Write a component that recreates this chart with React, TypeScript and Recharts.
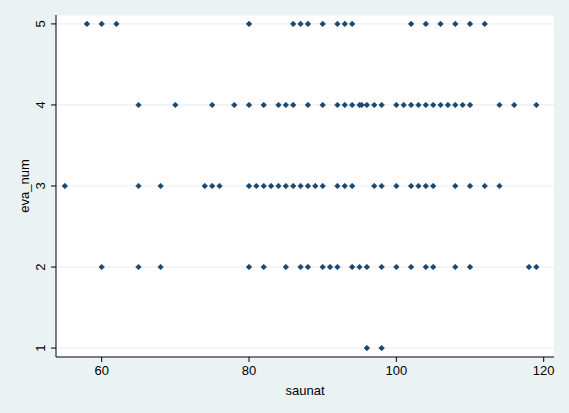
import React from "react";
import { ScatterChart, Scatter, XAxis, YAxis, CartesianGrid, Label } from "recharts";

const evaLevels = [1, 2, 3, 4, 5];
const xTicks = [60, 80, 100, 120];

const saunatEva5 = [58, 60, 62, 80, 86, 87, 88, 90, 92, 93, 94, 102, 104, 106, 108, 110, 112];
const saunatEva4 = [65, 70, 75, 78, 80, 82, 84, 85, 86, 88, 90, 92, 93, 94, 95, 95.3, 96, 97, 98, 100, 101, 102, 103, 104, 105, 106, 107, 108, 109, 110, 114, 116, 119];
const saunatEva3 = [55, 65, 68, 74, 75, 76, 80, 81, 82, 83, 84, 85, 86, 87, 88, 89, 90, 92, 93, 94, 97, 98, 100, 102, 103, 104, 105, 108, 110, 112, 114];
const saunatEva2 = [60, 65, 68, 80, 82, 85, 87, 88, 90, 91, 92, 94, 95, 96, 98, 100, 102, 104, 105, 108, 110, 118, 119];
const saunatEva1 = [96, 98];

const rows: [number, number[]][] = [
  [5, saunatEva5],
  [4, saunatEva4],
  [3, saunatEva3],
  [2, saunatEva2],
  [1, saunatEva1],
];
const points = rows.flatMap(([eva, xs]) => xs.map((s) => ({ saunat: s, eva_num: eva })));

const FONT = "'Liberation Sans', Arial, sans-serif";
const NAVY = "#1A476F";
const BG = "#EAF2F3";

const Diamond = (props: any) => {
  const { cx, cy } = props;
  if (cx == null || cy == null) return null;
  const r = 2.8;
  return (
    <polygon
      points={`${cx},${cy - r} ${cx + r},${cy} ${cx},${cy + r} ${cx - r},${cy}`}
      fill={NAVY}
      stroke={NAVY}
      strokeWidth={0.6}
    />
  );
};

const YTick = (props: any) => {
  const { x, y, payload } = props;
  return (
    <text
      transform={`translate(${x - 9},${y}) rotate(-90)`}
      textAnchor="middle"
      dominantBaseline="central"
      fontFamily={FONT}
      fontSize={13}
      fill="#000"
    >
      {payload.value}
    </text>
  );
};

const XTick = (props: any) => {
  const { x, y, payload } = props;
  return (
    <text x={x} y={y + 11} textAnchor="middle" fontFamily={FONT} fontSize={13} fill="#000">
      {payload.value}
    </text>
  );
};

export default function App() {
  return (
    <div style={{ position: "absolute", left: 0, top: 0, width: 569, height: 413, background: BG }}>
      <ScatterChart width={569} height={413} margin={{ top: 15, right: 15, bottom: 0, left: 0 }}>
        <CartesianGrid horizontal vertical={false} stroke={BG} strokeWidth={1.2} fill="#ffffff" />
        <XAxis
          type="number"
          dataKey="saunat"
          domain={[53.8, 121.4]}
          ticks={xTicks}
          allowDataOverflow
          height={56}
          tickSize={5}
          tickMargin={2}
          stroke="#000"
          tickLine={{ stroke: "#000" }}
          axisLine={{ stroke: "#000" }}
          tick={<XTick />}
        >
          <Label
            content={(p: any) => {
              const vb = p.viewBox || {};
              return (
                <text
                  x={vb.x + vb.width / 2}
                  y={vb.y + 38}
                  textAnchor="middle"
                  fontFamily={FONT}
                  fontSize={13}
                  fill="#000"
                >
                  saunat
                </text>
              );
            }}
          />
        </XAxis>
        <YAxis
          type="number"
          dataKey="eva_num"
          domain={[0.89, 5.11]}
          ticks={evaLevels}
          allowDataOverflow
          width={56}
          tickSize={5}
          tickMargin={2}
          stroke="#000"
          tickLine={{ stroke: "#000" }}
          axisLine={{ stroke: "#000" }}
          tick={<YTick />}
        >
          <Label
            content={(p: any) => {
              const vb = p.viewBox || {};
              const cy = vb.y + vb.height / 2;
              return (
                <text
                  transform={`translate(29,${cy}) rotate(-90)`}
                  textAnchor="middle"
                  fontFamily={FONT}
                  fontSize={13}
                  fill="#000"
                >
                  eva_num
                </text>
              );
            }}
          />
        </YAxis>
        <Scatter data={points} fill={NAVY} shape={<Diamond />} isAnimationActive={false} />
      </ScatterChart>
    </div>
  );
}
